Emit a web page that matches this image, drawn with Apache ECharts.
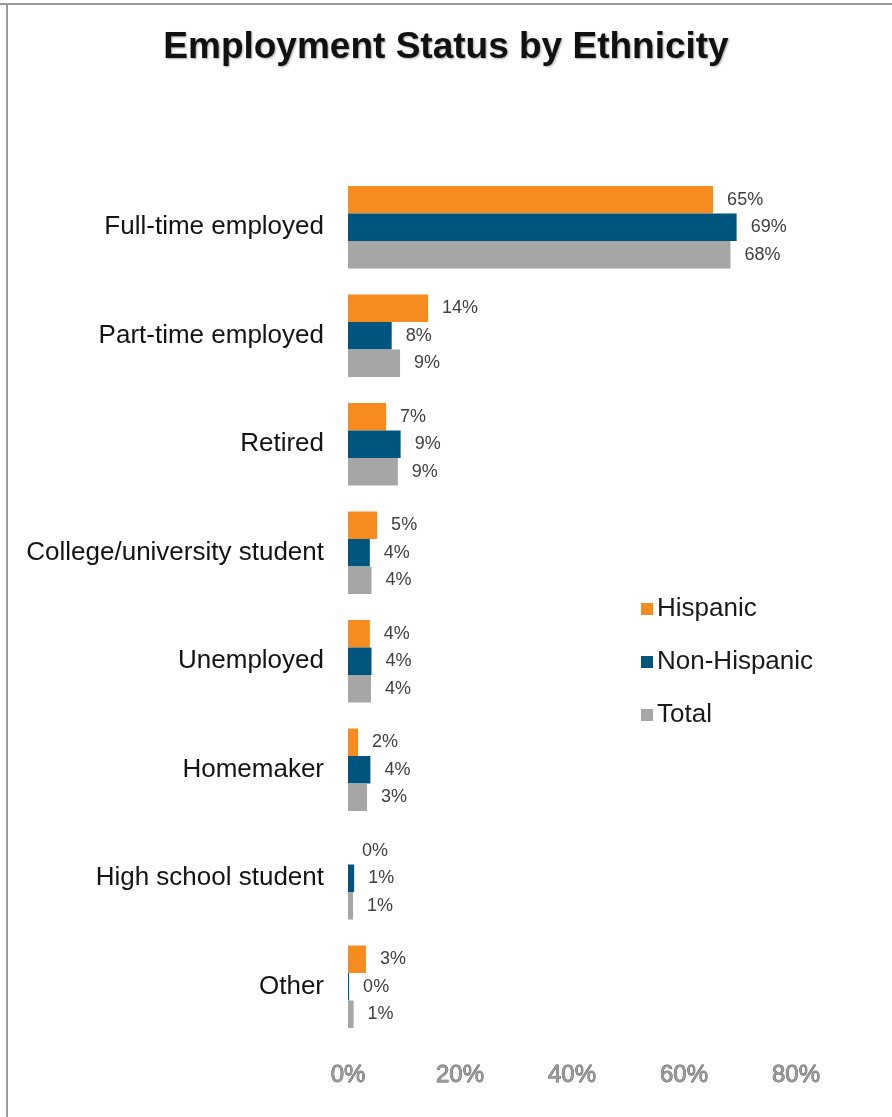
<!DOCTYPE html>
<html>
<head>
<meta charset="utf-8">
<title>Employment Status by Ethnicity</title>
<script src="https://cdn.jsdelivr.net/npm/echarts@6/dist/echarts.min.js"></script>
<style>
  html, body { margin: 0; padding: 0; background: #ffffff; }
  #chart { width: 892px; height: 1117px; }
</style>
</head>
<body>
<div id="chart"></div>
<script>
// Employment status categories, top to bottom
const categories = [
  'Full-time employed',
  'Part-time employed',
  'Retired',
  'College/university student',
  'Unemployed',
  'Homemaker',
  'High school student',
  'Other'
];

// Share of respondents (%) in each group
const hispanic    = [65.2, 14.3, 6.8, 5.2, 3.9, 1.8, 0.0, 3.2];
const nonHispanic = [69.4, 7.8, 9.4, 3.9, 4.2, 4.0, 1.1, 0.2];
const total       = [68.3, 9.3, 8.9, 4.2, 4.1, 3.4, 0.9, 1.0];

const seriesNames = ['Hispanic', 'Non-Hispanic', 'Total'];
const xTicks = [0, 20, 40, 60, 80];

const colors = ['#F68B1F', '#00557F', '#A6A6A6'];
const font = 'Arial, "Liberation Sans", Helvetica, sans-serif';

const chart = echarts.init(document.getElementById('chart'), null, { renderer: 'canvas' });

function barSeries(name, values, color) {
  return {
    name: name,
    type: 'bar',
    data: values,
    barGap: '0%',
    barCategoryGap: '24%',
    itemStyle: { color: color },
    label: {
      show: true,
      position: 'right',
      distance: 14,
      formatter: p => Math.round(p.value) + '%',
      fontFamily: font,
      fontSize: 18,
      color: '#404040'
    },
    emphasis: { disabled: true }
  };
}

chart.setOption({
  animation: false,
  backgroundColor: '#ffffff',
  title: {
    text: 'Employment Status by Ethnicity',
    left: 'center',
    top: 24,
    textStyle: {
      fontFamily: font,
      fontSize: 37,
      fontWeight: 'bold',
      color: '#111111',
      textShadowColor: 'rgba(0,0,0,0.35)',
      textShadowBlur: 2,
      textShadowOffsetX: 1,
      textShadowOffsetY: 1
    }
  },
  legend: {
    orient: 'vertical',
    left: 636,
    top: 591,
    itemWidth: 12,
    itemHeight: 12,
    itemGap: 27,
    icon: 'rect',
    data: seriesNames,
    textStyle: { fontFamily: font, fontSize: 26, color: '#1a1a1a', padding: [0, 0, 0, -1] }
  },
  grid: {
    left: 348,
    right: 96,
    top: 173,
    bottom: 76,
    containLabel: false
  },
  xAxis: {
    type: 'value',
    min: xTicks[0],
    max: xTicks[xTicks.length - 1],
    interval: 20,
    axisLine: { show: false },
    axisTick: { show: false },
    splitLine: { show: false },
    axisLabel: {
      margin: 22,
      formatter: v => v + '%',
      fontFamily: font,
      fontSize: 24,
      color: '#9a9a9a',
      textBorderColor: '#555555',
      textBorderWidth: 0.8
    }
  },
  yAxis: {
    type: 'category',
    inverse: true,
    data: categories,
    axisLine: { show: false },
    axisTick: { show: false },
    axisLabel: {
      margin: 24,
      fontFamily: font,
      fontSize: 26,
      color: '#141414'
    }
  },
  series: [
    barSeries(seriesNames[0], hispanic, colors[0]),
    barSeries(seriesNames[1], nonHispanic, colors[1]),
    barSeries(seriesNames[2], total, colors[2])
  ],
  graphic: [
    { type: 'rect', shape: { x: 0, y: 3, width: 892, height: 2 }, style: { fill: '#9a9a9a' }, silent: true },
    { type: 'rect', shape: { x: 6, y: 3, width: 2, height: 1114 }, style: { fill: '#9a9a9a' }, silent: true }
  ]
});
</script>
</body>
</html>
